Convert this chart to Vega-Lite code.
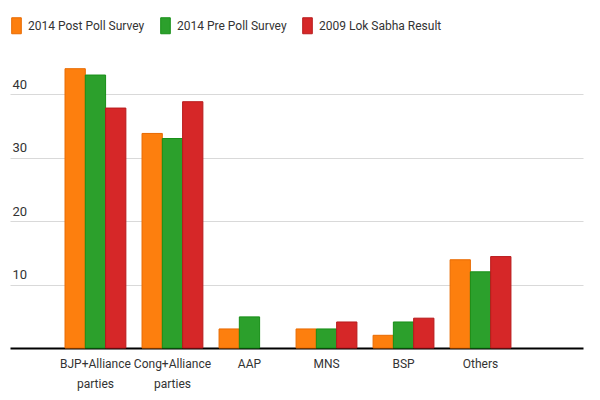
{
  "$schema": "https://vega.github.io/schema/vega-lite/v6.json",
  "width": 573,
  "height": 292,
  "autosize": {"type": "none"},
  "padding": {"left": 10, "top": 56, "right": 17, "bottom": 52},
  "config": {
    "font": "Roboto, sans-serif",
    "view": {"stroke": null}
  },
  "data": {
    "values": [
      {"party": "BJP+Alliance parties", "series": "2014 Post Poll Survey", "value": 44},
      {"party": "BJP+Alliance parties", "series": "2014 Pre Poll Survey", "value": 43},
      {"party": "BJP+Alliance parties", "series": "2009 Lok Sabha Result", "value": 37.8},
      {"party": "Cong+Alliance parties", "series": "2014 Post Poll Survey", "value": 33.8},
      {"party": "Cong+Alliance parties", "series": "2014 Pre Poll Survey", "value": 33},
      {"party": "Cong+Alliance parties", "series": "2009 Lok Sabha Result", "value": 38.8},
      {"party": "AAP", "series": "2014 Post Poll Survey", "value": 3},
      {"party": "AAP", "series": "2014 Pre Poll Survey", "value": 4.9},
      {"party": "MNS", "series": "2014 Post Poll Survey", "value": 3},
      {"party": "MNS", "series": "2014 Pre Poll Survey", "value": 3},
      {"party": "MNS", "series": "2009 Lok Sabha Result", "value": 4.1},
      {"party": "BSP", "series": "2014 Post Poll Survey", "value": 2},
      {"party": "BSP", "series": "2014 Pre Poll Survey", "value": 4.1},
      {"party": "BSP", "series": "2009 Lok Sabha Result", "value": 4.7},
      {"party": "Others", "series": "2014 Post Poll Survey", "value": 13.9},
      {"party": "Others", "series": "2014 Pre Poll Survey", "value": 12},
      {"party": "Others", "series": "2009 Lok Sabha Result", "value": 14.4}
    ]
  },
  "mark": {"type": "bar", "strokeWidth": 1},
  "encoding": {
    "x": {
      "field": "party",
      "type": "nominal",
      "sort": ["BJP+Alliance parties", "Cong+Alliance parties", "AAP", "MNS", "BSP", "Others"],
      "scale": {"paddingInner": 0.21, "paddingOuter": 0.825, "align": 0.433},
      "axis": {
        "title": null,
        "labelAngle": 0,
        "ticks": false,
        "domainColor": "#000000",
        "domainWidth": 2,
        "labelFontSize": 12,
        "labelColor": "#333333",
        "labelPadding": 10,
        "labelLineHeight": 20,
        "labelExpr": "indexof(datum.label, ' parties') > 0 ? [replace(datum.label, ' parties', ''), 'parties'] : datum.label"
      }
    },
    "xOffset": {
      "field": "series",
      "sort": ["2014 Post Poll Survey", "2014 Pre Poll Survey", "2009 Lok Sabha Result"],
      "scale": {"paddingInner": 0, "paddingOuter": 0}
    },
    "y": {
      "field": "value",
      "type": "quantitative",
      "scale": {"domain": [0, 46], "nice": false},
      "axis": {
        "title": null,
        "values": [10, 20, 30, 40],
        "domain": false,
        "ticks": false,
        "tickSize": 0,
        "gridColor": "#d9d9d9",
        "labelAlign": "left",
        "labelBaseline": "bottom",
        "labelPadding": -2,
        "labelOffset": -3,
        "labelFontSize": 13,
        "labelColor": "#333333"
      }
    },
    "fill": {
      "field": "series",
      "type": "nominal",
      "sort": ["2014 Post Poll Survey", "2014 Pre Poll Survey", "2009 Lok Sabha Result"],
      "scale": {
        "domain": ["2014 Post Poll Survey", "2014 Pre Poll Survey", "2009 Lok Sabha Result"],
        "range": ["#fd7f0e", "#2ca02c", "#d62728"]
      },
      "legend": {
        "title": null,
        "orient": "none",
        "direction": "horizontal",
        "legendX": -2,
        "legendY": -39,
        "symbolType": "M-0.6,-1L0.6,-1L0.6,1L-0.6,1Z",
        "symbolSize": 256,
        "symbolStrokeWidth": 1,
        "labelFontSize": 12,
        "labelColor": "#333333",
        "labelOffset": 3,
        "columnPadding": 12
      }
    },
    "stroke": {
      "field": "series",
      "type": "nominal",
      "scale": {
        "domain": ["2014 Post Poll Survey", "2014 Pre Poll Survey", "2009 Lok Sabha Result"],
        "range": ["#e86a00", "#178f17", "#b81b1c"]
      },
      "legend": null
    }
  }
}
